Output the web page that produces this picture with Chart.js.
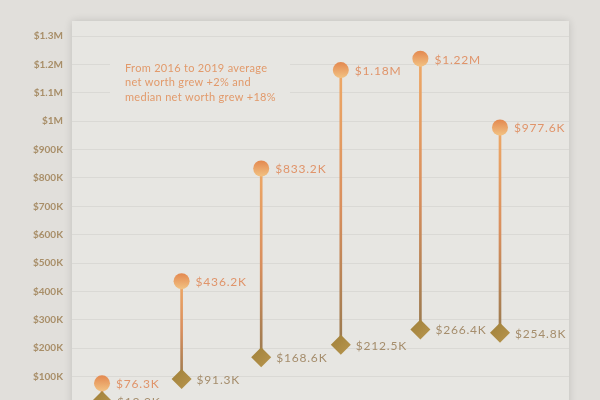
<!DOCTYPE html>
<html>
<head>
<meta charset="utf-8">
<script src="https://cdn.jsdelivr.net/npm/chart.js@4.4.1/dist/chart.umd.min.js"></script>
<style>
  html, body { margin: 0; padding: 0; background: #e2e0dc; overflow: hidden; }
  #wrap { width: 600px; height: 440px; }
</style>
</head>
<body>
<div id="wrap"><canvas id="c" width="600" height="440"></canvas></div>
<script>
// ---- data ----
const categories = ["Less than 35", "35–44", "45–54", "55–64", "65–74", "75+"];
const averageNetWorth = [76300, 436200, 833200, 1180000, 1220000, 977600];
const medianNetWorth  = [13900, 91300, 168600, 212500, 266400, 254800];
const averageLabels = ["$76.3K", "$436.2K", "$833.2K", "$1.18M", "$1.22M", "$977.6K"];
const medianLabels  = ["$13.9K", "$91.3K", "$168.6K", "$212.5K", "$266.4K", "$254.8K"];
const noteLines = ["From 2016 to 2019 average", "net worth grew +2% and", "median net worth grew +18%"];

const FONT = "Lato, 'Open Sans', sans-serif";
const PANEL = "#e7e6e2";

const avgPts = categories.map((c, i) => ({ x: i, y: averageNetWorth[i] }));
const medPts = categories.map((c, i) => ({ x: i, y: medianNetWorth[i] }));
const stems  = categories.map((c, i) => ({ x: i, y: [medianNetWorth[i], averageNetWorth[i]] }));

function circleFill(ctx) {
  const el = ctx.element;
  if (!el || el.y === undefined || isNaN(el.y)) return "#e8965c";
  const g = ctx.chart.ctx.createLinearGradient(0, el.y - 8, 0, el.y + 8);
  g.addColorStop(0, "#e3884f");
  g.addColorStop(1, "#f2c283");
  return g;
}
function diamondFill(ctx) {
  const el = ctx.element;
  if (!el || el.y === undefined || isNaN(el.y)) return "#a8873f";
  const g = ctx.chart.ctx.createLinearGradient(el.x - 10, el.y - 10, el.x + 10, el.y + 10);
  g.addColorStop(0, "#a08039");
  g.addColorStop(1, "#b8964f");
  return g;
}
function stemFill(ctx) {
  const chart = ctx.chart;
  const y = chart.scales.y;
  if (!chart.chartArea || !y || !ctx.raw) return "#c89060";
  const top = y.getPixelForValue(ctx.raw.y[1]);
  const bot = y.getPixelForValue(ctx.raw.y[0]);
  const g = chart.ctx.createLinearGradient(0, top, 0, bot);
  g.addColorStop(0, "#eea866");
  g.addColorStop(0.5, "#d98f5e");
  g.addColorStop(1, "#9a7a4f");
  return g;
}

const panelPlugin = {
  id: "panel",
  beforeDraw(chart) {
    const { ctx, chartArea } = chart;
    ctx.save();
    ctx.fillStyle = "#e1dfdb";
    ctx.fillRect(0, 0, chart.width, chart.height);
    ctx.shadowColor = "rgba(0,0,0,0.14)";
    ctx.shadowBlur = 8;
    ctx.shadowOffsetX = 0;
    ctx.fillStyle = PANEL;
    ctx.fillRect(chartArea.left, 21, chartArea.right - chartArea.left, chart.height);
    ctx.restore();
  }
};

const notePlugin = {
  id: "note",
  beforeDatasetsDraw(chart) {
    const { ctx } = chart;
    ctx.save();
    ctx.fillStyle = PANEL;
    ctx.fillRect(110, 55, 180, 52);
    ctx.font = "11px " + FONT;
    ctx.letterSpacing = "0.3px";
    ctx.fillStyle = "#e29a6b";
    ctx.textBaseline = "middle";
    ctx.textAlign = "left";
    noteLines.forEach((t, i) => ctx.fillText(t, 125, 68 + i * 14.5));
    ctx.restore();
  }
};

const labelPlugin = {
  id: "vlabels",
  afterDatasetsDraw(chart) {
    const { ctx } = chart;
    ctx.save();
    ctx.font = "12px " + FONT;
    ctx.letterSpacing = "0.8px";
    ctx.textBaseline = "middle";
    ctx.textAlign = "left";
    chart.data.datasets.forEach((ds, di) => {
      if (!ds.valueLabels) return;
      const meta = chart.getDatasetMeta(di);
      ctx.fillStyle = ds.labelColor;
      meta.data.forEach((el, i) => {
        ctx.fillText(ds.valueLabels[i], el.x + ds.labelOffset, el.y + 1);
      });
    });
    ctx.restore();
  }
};

new Chart(document.getElementById("c"), {
  data: {
    datasets: [
      {
        type: "scatter", label: "Average", data: avgPts,
        pointStyle: "circle", pointRadius: 8, pointHoverRadius: 8,
        pointBackgroundColor: circleFill, pointBorderWidth: 0,
        valueLabels: averageLabels, labelColor: "#e0946a", labelOffset: 14, clip: false
      },
      {
        type: "scatter", label: "Median", data: medPts,
        pointStyle: "rectRot", pointRadius: 10, pointHoverRadius: 10,
        pointBackgroundColor: diamondFill, pointBorderWidth: 0,
        valueLabels: medianLabels, labelColor: "#a58d6c", labelOffset: 15, clip: false
      },
      {
        type: "bar", label: "Range", data: stems,
        backgroundColor: stemFill, barThickness: 2, borderWidth: 0, clip: false
      }
    ]
  },
  options: {
    responsive: false,
    animation: false,
    events: [],
    layout: { padding: { top: 36, bottom: 35, right: 31, left: 0 } },
    plugins: { legend: { display: false }, tooltip: { enabled: false } },
    scales: {
      x: {
        type: "linear", min: -0.377, max: 5.867, offset: false,
        grid: { offset: false },
        display: false
      },
      y: {
        min: 0, max: 1300000,
        afterFit(s) { s.width = 72; },
        border: { display: false },
        grid: { color: "rgba(0,0,0,0.055)", drawTicks: false, lineWidth: 1 },
        ticks: {
          stepSize: 100000, padding: 9,
          color: "#a88e68",
          font: { family: FONT, size: 10, weight: "bold" },
          callback: v => v === 0 ? "$0" : (v >= 1000000 ? "$" + (v / 1000000) + "M" : "$" + (v / 1000) + "K")
        }
      }
    }
  },
  plugins: [panelPlugin, notePlugin, labelPlugin]
});
</script>
</body>
</html>
